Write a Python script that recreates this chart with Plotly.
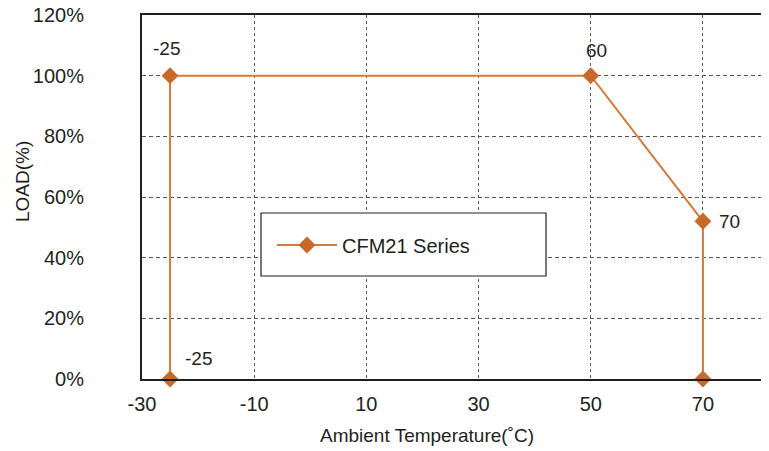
import plotly.graph_objects as go

# derating curve
temps = [-25, -25, 50, 70, 70]
load = [0, 100, 100, 52, 0]
point_labels = ["-25", "-25", "60", "70", ""]

x_ticks = [-30, -10, 10, 30, 50, 70]
x_tick_text = ["-30", "-10", "10", "30", "50", "70"]
y_ticks = [0, 20, 40, 60, 80, 100, 120]
y_tick_text = ["0%", "20%", "40%", "60%", "80%", "100%", "120%"]

# label offsets from each point, in pixels
label_dx = [28, -4, 6, 27, 0]
label_dy = [21, 27, 25, 0, 0]

SERIES = "CFM21 Series"
MARKER = "#C8692A"
LINE = "#D6793A"
INK = "#231f20"
FONT = "Liberation Sans, Arial, sans-serif"

W, H = 769, 451
PAGE = 8  # default body margin of the html page
# plot box in window pixels: x 142..768, y 15..379
L, R, T, B = 142 - PAGE, W - 768 + PAGE, 15 - PAGE, H - 379 + PAGE
pw, ph = W - L - R, H - T - B


def px_x(v):
    return (v - PAGE - L) / pw


def px_y(v):
    return (H - B - (v - PAGE)) / ph


fig = go.Figure()
fig.add_trace(go.Scatter(
    x=temps,
    y=load,
    mode="lines+markers",
    name=SERIES,
    line=dict(color=LINE, width=2),
    marker=dict(symbol="diamond", size=13, color=MARKER),
    cliponaxis=False,
))

annotations = [
    dict(x=t, y=v, text=s, xref="x", yref="y", showarrow=False,
         xanchor="center", yanchor="middle",
         xshift=dx, yshift=dy, font=dict(size=19, color=INK))
    for t, v, s, dx, dy in zip(temps, load, point_labels, label_dx, label_dy) if s
]
annotations += [
    dict(text="LOAD(%)", textangle=-90, xref="paper", yref="paper",
         x=px_x(22), y=px_y(182), xanchor="center", yanchor="middle",
         showarrow=False, font=dict(size=19, color=INK)),
    dict(text="Ambient Temperature(˚C)", xref="paper", yref="paper",
         x=px_x(427), y=px_y(436), xanchor="center", yanchor="middle",
         showarrow=False, font=dict(size=19, color=INK)),
]

fig.update_layout(
    width=W,
    height=H,
    margin=dict(l=L, r=R, t=T, b=B, autoexpand=False),
    paper_bgcolor="#ffffff",
    plot_bgcolor="#ffffff",
    font=dict(family=FONT, size=19, color=INK),
    showlegend=True,
    legend=dict(
        x=px_x(272), y=px_y(245), xanchor="left", yanchor="middle",
        bgcolor="rgba(0,0,0,0)", borderwidth=0,
        font=dict(size=20, color=INK), itemwidth=60,
    ),
    shapes=[dict(
        type="rect", xref="paper", yref="paper",
        x0=px_x(261), x1=px_x(546), y0=px_y(276), y1=px_y(213),
        line=dict(color=INK, width=1.2), fillcolor="#ffffff", layer="above",
    )],
    annotations=annotations,
)

fig.update_xaxes(
    range=[-30, 81.6],
    tickvals=x_ticks,
    ticktext=x_tick_text,
    automargin=False,
    ticklabeloverflow="allow",
    showgrid=True,
    gridcolor="#555555",
    gridwidth=1,
    griddash="3px,3px",
    zeroline=False,
    showline=True,
    linecolor=INK,
    linewidth=2,
    mirror=True,
    ticks="",
    ticklabelstandoff=6,
    tickfont=dict(size=20, color=INK),
)
fig.update_yaxes(
    range=[0, 120],
    tickvals=y_ticks,
    ticktext=y_tick_text,
    automargin=False,
    ticklabeloverflow="allow",
    showgrid=True,
    gridcolor="#555555",
    gridwidth=1,
    griddash="4px,3px",
    zeroline=False,
    showline=True,
    linecolor=INK,
    linewidth=2,
    mirror=True,
    ticks="",
    ticklabelstandoff=52,
    tickfont=dict(size=20, color=INK),
)

fig.write_html("out.html")
